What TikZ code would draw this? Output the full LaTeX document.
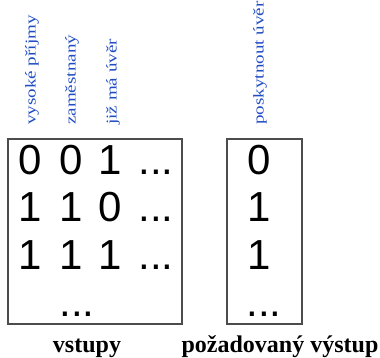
\documentclass[tikz,border=0pt]{standalone}
\usepackage{fontspec}
\setmainfont{Liberation Serif}
\newfontfamily\digitfont{Liberation Sans}
\usepackage{tikz}
\usetikzlibrary{positioning}
\definecolor{labelblue}{RGB}{32,76,196}

\begin{document}
\begin{tikzpicture}[x=1pt, y=-1pt,
    tablebox/.style={draw=black!70, line width=1.4pt, inner sep=0pt},
    bit/.style={font=\digitfont\fontsize{42}{42}\selectfont, anchor=base, inner sep=0pt},
    collabel/.style={font=\fontsize{15}{15}\selectfont, text=labelblue, rotate=90, xscale=1.27, anchor=west, inner sep=0pt},
    caption/.style={font=\bfseries\fontsize{24}{24}\selectfont, anchor=base, inner sep=0pt}]
    \useasboundingbox (0,0) rectangle (380,358);

    % Draw the two tables
    \node[tablebox, minimum width=174pt, minimum height=185pt] (inputs) at (95,231.5) {};
    \node[tablebox, minimum width=75pt, minimum height=185pt] (output) at (264.5,231.5) {};

    % Column labels above the tables
    \node[collabel] (income) at (32,125) {vysoké příjmy};
    \node[collabel] (employed) at (72,125) {zaměstnaný};
    \node[collabel] (credit) at (113,125) {již má úvěr};
    \node[collabel] (grant) at (260,125) {poskytnout úvěr};

    % Input rows
    \def\colA{30} \def\colB{71} \def\colC{110} \def\colD{156}
    \node[bit] (a1) at (\colA,175) {0};
    \node[bit] (b1) at (\colB,175) {0};
    \node[bit] (c1) at (\colC,175) {1};
    \node[bit] (d1) at (\colD,175) {...};
    \node[bit] (a2) at (\colA,222) {1};
    \node[bit] (b2) at (\colB,222) {1};
    \node[bit] (c2) at (\colC,222) {0};
    \node[bit] (d2) at (\colD,222) {...};
    \node[bit] (a3) at (\colA,269) {1};
    \node[bit] (b3) at (\colB,269) {1};
    \node[bit] (c3) at (\colC,269) {1};
    \node[bit] (d3) at (\colD,269) {...};
    \node[bit] (a4) at (77,316) {...};

    % Desired output column
    \node[bit] (o1) at (259,175) {0};
    \node[bit] (o2) at (259,222) {1};
    \node[bit] (o3) at (259,269) {1};
    \node[bit] (o4) at (264,316) {...};

    % Captions
    \node[caption] (incap) at (87,352) {vstupy};
    \node[caption] (outcap) at (280,352) {požadovaný výstup};
\end{tikzpicture}
\end{document}
